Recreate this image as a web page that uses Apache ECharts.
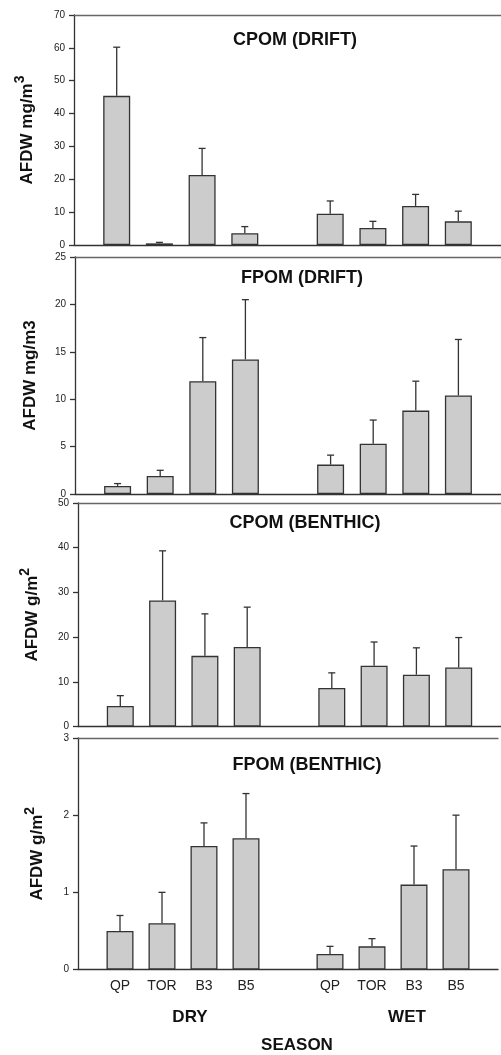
<!DOCTYPE html>
<html><head><meta charset="utf-8">
<script src="https://cdn.jsdelivr.net/npm/echarts@6/dist/echarts.min.js"></script>
<style>html,body{margin:0;padding:0;background:#fff}#c{width:501px;height:1055px}</style>
</head><body><div id="c"></div>
<script>
// ---- data ----
const categories = ['', 'QP', 'TOR', 'B3', 'B5', '', 'QP', 'TOR', 'B3', 'B5', ''];
const panelTitles = ['CPOM (DRIFT)', 'FPOM (DRIFT)', 'CPOM (BENTHIC)', 'FPOM (BENTHIC)'];
const cpomDriftMean    = [null, 45.4, 0.5, 21.3, 3.6, null, 9.5, 5.2, 11.9, 7.2, null];
const cpomDriftUpper   = [null, 60.2, 0.8, 29.4, 5.6, null, 13.4, 7.2, 15.4, 10.3, null];
const fpomDriftMean    = [null, 0.85, 1.9, 11.9, 14.2, null, 3.1, 5.3, 8.8, 10.4, null];
const fpomDriftUpper   = [null, 1.1, 2.5, 16.5, 20.5, null, 4.1, 7.8, 11.9, 16.3, null];
const cpomBenthicMean  = [null, 4.6, 28.2, 15.8, 17.8, null, 8.6, 13.6, 11.6, 13.2, null];
const cpomBenthicUpper = [null, 6.9, 39.3, 25.2, 26.7, null, 12.0, 18.9, 17.6, 19.9, null];
const fpomBenthicMean  = [null, 0.5, 0.6, 1.6, 1.7, null, 0.2, 0.3, 1.1, 1.3, null];
const fpomBenthicUpper = [null, 0.7, 1.0, 1.9, 2.28, null, 0.3, 0.4, 1.6, 2.0, null];
const yMax = [70, 25, 50, 3];
const yInterval = [10, 5, 10, 1];
const yNames = ['{a|AFDW mg/m}{b|3}', '{a|AFDW mg/m3}', '{a|AFDW g/m}{b|2}', '{a|AFDW g/m}{b|2}'];
const seasonLabels = ['DRY', 'WET'];
const xAxisTitle = 'SEASON';

// ---- layout / style ----
const means = [cpomDriftMean, fpomDriftMean, cpomBenthicMean, fpomBenthicMean];
const uppers = [cpomDriftUpper, fpomDriftUpper, cpomBenthicUpper, fpomBenthicUpper];
const grids = [
  { left: 74, top: 15, width: 431, height: 230 },
  { left: 75, top: 257, width: 430, height: 237 },
  { left: 78, top: 503, width: 428, height: 223.5 },
  { left: 78, top: 738, width: 429, height: 231.5 }
];
const nameGaps = [38, 36, 37, 32];
const titlePos = [[295, 40], [302, 278], [305, 523], [307, 765]];
const dark = '#333';
const boldFont = 'Liberation Sans, Arial, sans-serif';
const narrow = "'Liberation Sans Narrow', 'Liberation Sans', Arial, sans-serif";

const xAxes = [], yAxes = [], series = [], graphic = [];
grids.forEach((g, i) => {
  xAxes.push({
    type: 'category', gridIndex: i, data: categories, boundaryGap: false,
    axisLine: { lineStyle: { color: dark, width: 1.3 } },
    axisTick: { show: false },
    axisLabel: i === 3 ? { show: true, fontSize: 14, color: '#222', margin: 10, fontFamily: boldFont, interval: 0 } : { show: false },
    splitLine: { show: false }
  });
  xAxes.push({
    type: 'category', gridIndex: i, data: categories, boundaryGap: false, position: 'top',
    axisLine: { lineStyle: { color: '#666', width: 1.3 } },
    axisTick: { show: false }, axisLabel: { show: false }, splitLine: { show: false }
  });
  yAxes.push({
    type: 'value', gridIndex: i, min: 0, max: yMax[i], interval: yInterval[i],
    axisLine: { show: true, lineStyle: { color: dark, width: 1.3 } },
    axisTick: { show: true, length: 5, lineStyle: { color: dark, width: 1.3 } },
    axisLabel: { fontSize: 10, color: '#222', margin: 9, fontFamily: narrow },
    splitLine: { show: false },
    name: yNames[i], nameLocation: 'middle', nameRotate: 90, nameGap: nameGaps[i],
    nameTextStyle: {
      rich: {
        a: { fontSize: 17, fontWeight: 'bold', fontFamily: boldFont, color: '#111', lineHeight: 23, verticalAlign: 'bottom' },
        b: { fontSize: 14, fontWeight: 'bold', fontFamily: boldFont, color: '#111', verticalAlign: 'top' }
      }
    }
  });
  series.push({
    type: 'bar', xAxisIndex: 2 * i, yAxisIndex: i, data: means[i], barWidth: 27,
    itemStyle: { color: '#cccccc', borderColor: dark, borderWidth: 1.3 },
    silent: true, animation: false
  });
  const errData = means[i].map((m, k) => m == null ? null : [k, m, uppers[i][k]]).filter(d => d);
  series.push({
    type: 'custom', xAxisIndex: 2 * i, yAxisIndex: i, data: errData, animation: false, silent: true,
    renderItem: (params, api) => {
      const p0 = api.coord([api.value(0), api.value(1)]);
      const p1 = api.coord([api.value(0), api.value(2)]);
      const st = { stroke: dark, lineWidth: 1.3 };
      return {
        type: 'group', children: [
          { type: 'line', shape: { x1: p0[0], y1: p0[1], x2: p1[0], y2: p1[1] }, style: st },
          { type: 'line', shape: { x1: p1[0] - 3.5, y1: p1[1], x2: p1[0] + 3.5, y2: p1[1] }, style: st }
        ]
      };
    },
    encode: { x: 0, y: [1, 2] }
  });
  graphic.push({
    type: 'text', x: titlePos[i][0], y: titlePos[i][1], silent: true,
    style: { text: panelTitles[i], align: 'center', verticalAlign: 'middle', fontSize: 18, fontWeight: 'bold', fontFamily: boldFont, fill: '#111' }
  });
});
graphic.push({ type: 'text', x: 190, y: 1017, silent: true,
  style: { text: seasonLabels[0], align: 'center', verticalAlign: 'middle', fontSize: 17, fontWeight: 'bold', fontFamily: boldFont, fill: '#111' } });
graphic.push({ type: 'text', x: 407, y: 1017, silent: true,
  style: { text: seasonLabels[1], align: 'center', verticalAlign: 'middle', fontSize: 17, fontWeight: 'bold', fontFamily: boldFont, fill: '#111' } });
graphic.push({ type: 'text', x: 297, y: 1045, silent: true,
  style: { text: xAxisTitle, align: 'center', verticalAlign: 'middle', fontSize: 17, fontWeight: 'bold', fontFamily: boldFont, fill: '#111' } });

const chart = echarts.init(document.getElementById('c'), null, { renderer: 'canvas' });
chart.setOption({
  animation: false,
  backgroundColor: '#fff',
  grid: grids,
  xAxis: xAxes,
  yAxis: yAxes,
  series: series,
  graphic: graphic
});
</script></body></html>
